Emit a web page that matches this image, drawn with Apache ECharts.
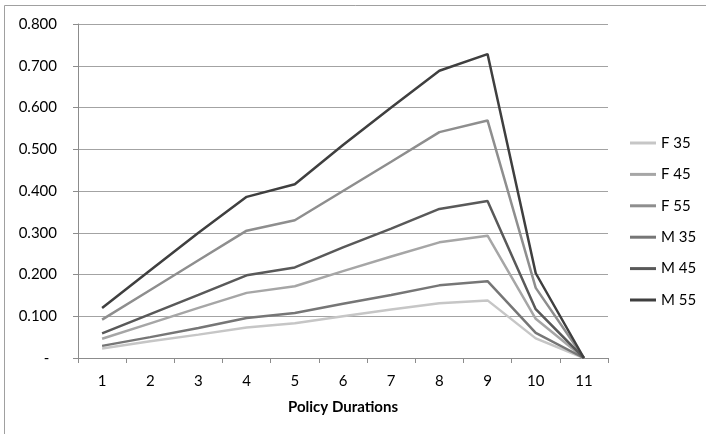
<!DOCTYPE html>
<html>
<head>
<meta charset="utf-8">
<script src="https://cdn.jsdelivr.net/npm/echarts@6/dist/echarts.min.js"></script>
<style>
html,body{margin:0;padding:0;background:#fff;}
#chart{width:706px;height:434px;}
</style>
</head>
<body>
<div id="chart"></div>
<script>
const categories = ['1','2','3','4','5','6','7','8','9','10','11'];
const seriesNames = ['F 35','F 45','F 55','M 35','M 45','M 55'];
const F35 = [0.023,0.040,0.056,0.073,0.083,0.100,0.116,0.131,0.138,0.047,0.000];
const F45 = [0.046,0.083,0.120,0.156,0.172,0.208,0.243,0.277,0.293,0.094,0.000];
const F55 = [0.092,0.163,0.234,0.305,0.330,0.400,0.470,0.541,0.569,0.168,0.000];
const M35 = [0.029,0.050,0.072,0.096,0.108,0.130,0.151,0.174,0.184,0.060,0.000];
const M45 = [0.059,0.105,0.151,0.198,0.217,0.265,0.310,0.357,0.376,0.117,0.000];
const M55 = [0.120,0.210,0.300,0.386,0.416,0.510,0.600,0.688,0.728,0.203,0.000];
const yTicks = [0,0.1,0.2,0.3,0.4,0.5,0.6,0.7,0.8];

const seriesData = [F35,F45,F55,M35,M45,M55];
const colors = ['#c6c6c6','#a6a6a6','#8e8e8e','#767676','#595959','#3f3f3f'];
const FONT = 'Lato, "Open Sans", sans-serif';

const chart = echarts.init(document.getElementById('chart'), null, {renderer:'canvas'});
chart.setOption({
  animation:false,
  backgroundColor:'#fff',
  color:colors,
  graphic:[{
    type:'rect', silent:true, z:-1,
    shape:{x:4.5,y:5.5,width:760,height:500},
    style:{fill:'none',stroke:'#a0a0a0',lineWidth:1}
  }],
  grid:{left:78,right:98,top:24,bottom:76,containLabel:false},
  legend:{
    orient:'vertical', left:630, top:135, padding:0,
    itemWidth:26, itemHeight:3, itemGap:15.4, icon:'rect',
    textStyle:{fontFamily:FONT,fontSize:15,color:'#000',lineHeight:16},
    data:seriesNames
  },
  xAxis:{
    type:'category', data:categories, boundaryGap:true,
    name:'Policy Durations', nameLocation:'middle', nameGap:42,
    nameTextStyle:{fontFamily:FONT,fontSize:15,fontWeight:'bold',color:'#000'},
    axisLine:{lineStyle:{color:'#8c8c8c',width:1}},
    axisTick:{show:true,length:5,alignWithLabel:false,lineStyle:{color:'#8c8c8c'}},
    axisLabel:{fontFamily:FONT,fontSize:15,color:'#000',margin:16}
  },
  yAxis:{
    type:'value', min:yTicks[0], max:yTicks[yTicks.length-1], interval:0.1,
    axisLine:{show:true,lineStyle:{color:'#8c8c8c',width:1}},
    axisTick:{show:true,length:5,lineStyle:{color:'#8c8c8c'}},
    splitLine:{show:true,lineStyle:{color:'#a3a3a3',width:1}},
    axisLabel:{fontFamily:FONT,fontSize:15,color:'#000',margin:21,
      formatter:function(v){return v===0?'-  ':v.toFixed(3);}}
  },
  series:seriesData.map(function(d,i){
    return {name:seriesNames[i],type:'line',data:d,symbol:'none',
      lineStyle:{width:2.5,color:colors[i]},itemStyle:{color:colors[i]}};
  })
});
</script>
</body>
</html>
